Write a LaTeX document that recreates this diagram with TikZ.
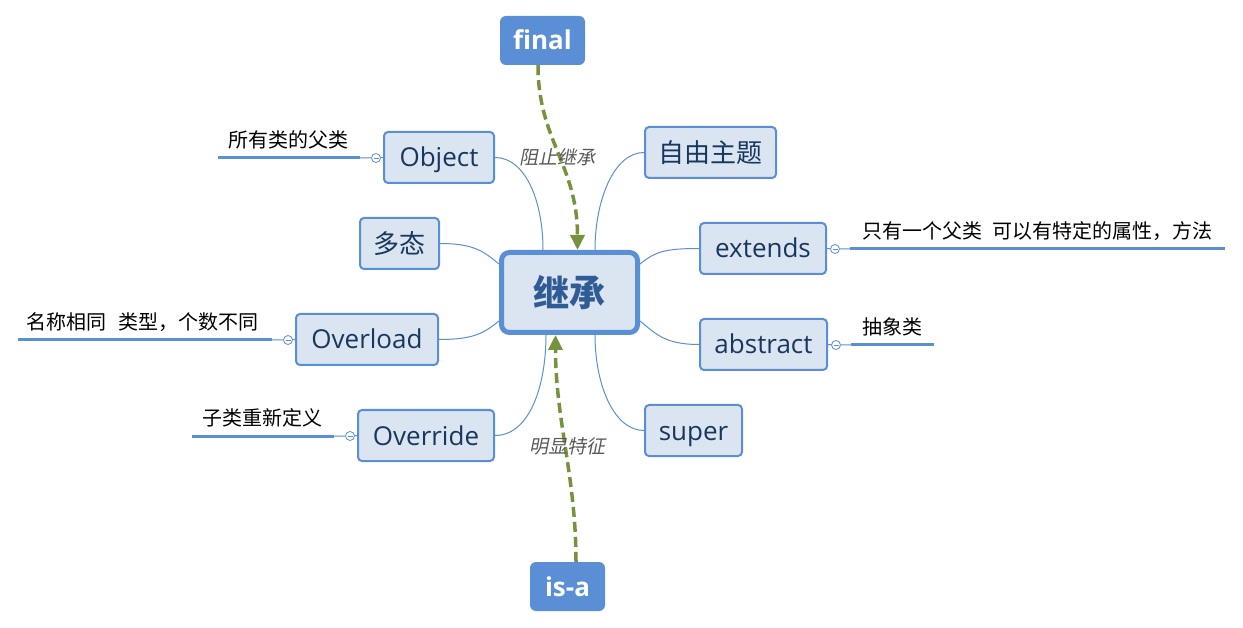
\documentclass[tikz,border=0pt]{standalone}
\usepackage{fontspec}
\setmainfont{Open Sans}
\newfontfamily\cjk{Noto Sans CJK SC}
\newfontfamily\cjkit[FakeSlant=0.2]{Noto Sans CJK SC}
\usetikzlibrary{arrows.meta,calc}
\definecolor{bl}{HTML}{5A8ED5}
\definecolor{tfill}{HTML}{DBE5F1}
\definecolor{navy}{HTML}{17375E}
\definecolor{ctext}{HTML}{2F5C94}
\definecolor{grn}{HTML}{76923C}
\definecolor{gry}{HTML}{595959}
\begin{document}
\begin{tikzpicture}[x=1pt,y=-1pt,
  topic/.style={draw=bl, line width=2pt, fill=tfill, rounded corners=4pt, inner sep=0pt,
    text=navy, font=\fontsize{26}{30}\selectfont, text height=19pt, text depth=0pt},
  cjktopic/.style={topic, font=\cjk\fontsize{26}{30}\selectfont, text height=, text depth=},
  central/.style={draw=bl, line width=5pt, fill=tfill, rounded corners=8pt, inner sep=0pt,
    text=ctext, font=\cjk\bfseries\fontsize{36}{40}\selectfont},
  strong/.style={fill=bl, draw=none, rounded corners=6pt, inner sep=0pt,
    text=white, font=\bfseries\fontsize{26}{30}\selectfont, text height=19pt, text depth=0pt},
  branch/.style={draw=bl, line width=1pt},
  uline/.style={draw=bl, line width=3pt},
  thinline/.style={draw=bl, line width=1pt},
  knob/.style={circle, draw=bl, line width=0.8pt, fill=white, minimum size=9pt, inner sep=0pt,
    path picture={\draw[bl, line width=0.8pt] ([xshift=-2.5pt]path picture bounding box.center) -- ([xshift=2.5pt]path picture bounding box.center);}},
  lbl/.style={inner sep=0pt, text=black, font=\cjk\fontsize{20}{24}\selectfont},
  rel/.style={draw=grn, line width=3.5pt, dash pattern=on 10pt off 5pt,
    -{Triangle[length=15pt,width=14pt]}},
  rellbl/.style={inner sep=1pt, text=gry, font=\cjkit\fontsize{19}{22}\selectfont}
]
\useasboundingbox (0,0) rectangle (1243,628);

% nodes
\node[central, minimum width=136pt, minimum height=80pt] (c) at (569.5,292.5) {继承};
\node[strong, minimum width=85pt, minimum height=49pt] (fin) at (542.5,40.5) {final};
\node[strong, minimum width=75pt, minimum height=49pt] (isa) at (567.5,586.5) {is-a};

\node[topic, minimum width=110pt, minimum height=51pt] (obj) at (439,157.5) {Object};
\node[cjktopic, minimum width=79pt, minimum height=51pt] (dt) at (399.5,243.5) {多态};
\node[topic, minimum width=142pt, minimum height=51pt] (ol) at (367,339.5) {Overload};
\node[topic, minimum width=136pt, minimum height=51pt] (ov) at (426,435.5) {Override};
\node[cjktopic, minimum width=131pt, minimum height=51pt] (zy) at (710.5,152.5) {自由主题};
\node[topic, minimum width=126pt, minimum height=51pt] (ex) at (763,248.5) {extends};
\node[topic, minimum width=127pt, minimum height=51pt] (ab) at (763.5,344.5) {abstract};
\node[topic, minimum width=97pt, minimum height=51pt] (su) at (693.5,430.5) {super};

% branches
\draw[branch] (obj.east) .. controls +(30,0) and +(0,-50) .. ([xshift=44pt]c.north west);
\draw[branch] (dt.east) .. controls +(35,0) and +(-15,-12) .. ([yshift=-14pt]c.north west);
\draw[branch] (ol.east) .. controls +(35,0) and +(-15,12) .. ([yshift=14pt]c.south west);
\draw[branch] (ov.east) .. controls +(35,0) and +(0,50) .. ([xshift=47pt]c.south west);
\draw[branch] (zy.west) .. controls +(-30,0) and +(0,-50) .. ([xshift=-45pt]c.north east);
\draw[branch] (ex.west) .. controls +(-35,0) and +(15,-12) .. ([yshift=-14pt]c.north east);
\draw[branch] (ab.west) .. controls +(-35,0) and +(15,12) .. ([yshift=14pt]c.south east);
\draw[branch] (su.west) .. controls +(-30,0) and +(0,50) .. ([xshift=-45pt]c.south east);

% relationship arrows
\draw[rel] ([xshift=-4.5pt]fin.south) .. controls +(0,75) and +(0,-85) .. ([xshift=8pt]c.north);
\draw[rel] ([xshift=8.5pt]isa.north) .. controls +(0,-85) and +(0,85) .. ([xshift=-14pt]c.south);
\node[rellbl] (r1) at (557,157) {阻止继承};
\node[rellbl] (r2) at (567,446) {明显特征};

% sub-topics, left
\node[lbl] (t1) at (288,140) {所有类的父类};
\coordinate (u1a) at (218,158); \coordinate (u1b) at (360,158);
\node[knob] (k1) at (376,158) {};
\draw[uline] (u1a) -- (u1b);
\draw[thinline] (u1b) -- (k1) (k1) -- (obj.west);

\node[lbl] (t2) at (143,322) {名称相同\hspace{0.6em}类型，个数不同};
\coordinate (u2a) at (18,340); \coordinate (u2b) at (272,340);
\node[knob] (k2) at (288,340) {};
\draw[uline] (u2a) -- (u2b);
\draw[thinline] (u2b) -- (k2) (k2) -- (ol.west);

\node[lbl] (t3) at (262,418) {子类重新定义};
\coordinate (u3a) at (192,436); \coordinate (u3b) at (334,436);
\node[knob] (k3) at (350,436) {};
\draw[uline] (u3a) -- (u3b);
\draw[thinline] (u3b) -- (k3) (k3) -- (ov.west);

% sub-topics, right
\node[lbl] (t4) at (1037,231) {只有一个父类\hspace{0.5em}可以有特定的属性，方法};
\coordinate (u4a) at (850,249); \coordinate (u4b) at (1225,249);
\node[knob] (k4) at (835,249) {};
\draw[uline] (u4a) -- (u4b);
\draw[thinline] (ex.east) -- (k4) (k4) -- (u4a);

\node[lbl] (t5) at (892,327) {抽象类};
\coordinate (u5a) at (851,345); \coordinate (u5b) at (934,345);
\node[knob] (k5) at (836,345) {};
\draw[uline] (u5a) -- (u5b);
\draw[thinline] (ab.east) -- (k5) (k5) -- (u5a);
\end{tikzpicture}
\end{document}
